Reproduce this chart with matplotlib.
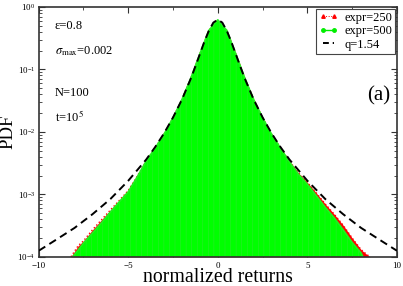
import matplotlib
matplotlib.use("Agg")
import matplotlib.pyplot as plt
import numpy as np

plt.rcParams['font.family'] = ['Liberation Serif', 'DejaVu Serif']
plt.rcParams['mathtext.fontset'] = 'stix'
plt.rcParams['hatch.linewidth'] = 0.4

# histogram envelopes
x500 = [-8.1, -7.5, -7.0, -6.5, -6.0, -5.5, -5.0, -4.5, -4.0, -3.5, -3.0, -2.5, -2.0,
        -1.5, -1.0, -0.5, 0.0, 0.5, 1.0, 1.5, 2.0, 2.5, 3.0, 3.5, 4.0, 4.5, 5.0, 5.5,
        6.0, 6.5, 7.0, 7.5, 8.0, 8.1]
p500 = [1.0e-4, 1.66e-4, 2.4e-4, 3.5e-4, 5.2e-4, 7.6e-4, 1.1e-3, 1.9e-3, 3.4e-3, 5.5e-3,
        9.2e-3, 1.68e-2, 3.3e-2, 7.3e-2, 0.178, 0.42, 0.62, 0.42, 0.178, 7.3e-2, 3.3e-2,
        1.68e-2, 9.2e-3, 5.5e-3, 3.3e-3, 2.1e-3, 1.45e-3, 9.5e-4, 6.2e-4, 4.2e-4,
        2.7e-4, 1.7e-4, 1.15e-4, 1.0e-4]

x250 = [-8.2, -7.8, -7.5, -7.0, -6.5, -6.0, -5.5, -5.0, -4.5, -4.0, -3.5, -3.0, -2.5, -2.0,
        -1.5, -1.0, -0.5, 0.0, 0.5, 1.0, 1.5, 2.0, 2.5, 3.0, 3.5, 4.0, 4.5, 5.0, 5.5,
        6.0, 6.5, 7.0, 7.5, 8.0, 8.3, 8.5]
p250 = [1.0e-4, 1.5e-4, 1.8e-4, 2.7e-4, 3.9e-4, 5.6e-4, 8.0e-4, 1.15e-3, 1.95e-3, 3.4e-3,
        5.5e-3, 9.2e-3, 1.68e-2, 3.3e-2, 7.3e-2, 0.178, 0.42, 0.62, 0.42, 0.178, 7.3e-2,
        3.3e-2, 1.68e-2, 9.2e-3, 5.5e-3, 3.4e-3, 2.2e-3, 1.55e-3, 1.05e-3, 7.0e-4,
        4.8e-4, 3.2e-4, 2.0e-4, 1.3e-4, 1.1e-4, 1.0e-4]

# q-Gaussian (q=1.54) curve
xq = [-10, -9, -8, -7, -6, -5, -4, -3.5, -3, -2.5, -2, -1.5, -1.25, -1, -0.75, -0.5,
      -0.25, 0, 0.25, 0.5, 0.75, 1, 1.25, 1.5, 2, 2.5, 3, 3.5, 4, 5, 6, 7, 8, 9, 10]
pq = [1.25e-4, 1.9e-4, 2.9e-4, 4.8e-4, 8.4e-4, 1.65e-3, 3.6e-3, 5.7e-3, 9.5e-3, 1.7e-2,
      3.3e-2, 7.2e-2, 0.112, 0.176, 0.278, 0.415, 0.56, 0.625, 0.56, 0.415, 0.278, 0.176,
      0.112, 7.2e-2, 3.3e-2, 1.7e-2, 9.5e-3, 5.7e-3, 3.6e-3, 1.65e-3, 8.4e-4, 4.8e-4,
      2.9e-4, 1.9e-4, 1.25e-4]

fig = plt.figure(figsize=(4.03, 2.86), dpi=100)
ax = fig.add_axes([0.096, 0.102, 0.889, 0.874])
ax.set_yscale('log')

ax.fill_between(x250, 1e-4, p250, color='#ff0000', lw=0, zorder=1)
ax.plot(x250, p250, color='#ff0000', lw=1.0, ls=':', zorder=1)
ax.fill_between(x500, 1e-4, p500, facecolor='#00ff00', edgecolor='#2ee82e', hatch='|||',
                lw=0, zorder=2)
ax.plot(x500, p500, color='#22ee22', lw=1.2, zorder=2)
ax.plot(xq, pq, color='black', ls=(0, (4, 2.5)), lw=1.4, zorder=3)

# legend handles
ax.plot([], [], color='red', ls=':', lw=0.7, marker='^', ms=2.5, label='expr=250')
ax.plot([], [], color='#00ee00', ls='-', lw=1.0, marker='o', ms=2.5, label='expr=500')
ax.plot([], [], color='black', ls=(0, (3, 2)), lw=1.4, label='q=1.54')
h, l = ax.get_legend_handles_labels()
leg = ax.legend(h[-3:], l[-3:], loc='upper right', fontsize=9, numpoints=2,
                handlelength=1.5, handletextpad=0.5, borderaxespad=0.15,
                borderpad=0.25, labelspacing=0.12, fancybox=False, framealpha=1)
leg.get_frame().set_edgecolor('#444444')
leg.get_frame().set_linewidth(0.8)

ax.set_xlim(-10, 10)
ax.set_ylim(1e-4, 1)
ax.set_xticks([-10, -5, 0, 5, 10])
ax.set_xticks([-7.5, -2.5, 2.5, 7.5], minor=True)
ax.tick_params(which='both', direction='in', top=True, right=True, labelsize=6.5,
               color='#333333')
ax.tick_params(which='major', length=4, width=0.8)
ax.tick_params(which='minor', length=2, width=0.6)
ax.tick_params(axis='y', pad=2.5)
for s in ax.spines.values():
    s.set_linewidth(1.2)
    s.set_color('#333333')

ax.set_xlabel('normalized returns', fontsize=14.3, labelpad=-1)
ax.set_ylabel('PDF', fontsize=13.5)
ax.yaxis.set_label_coords(-0.061, 0.5)

tx = -9.1
ax.text(tx, 0.44, r'ε=0.8', fontsize=9)
ax.text(tx, 0.175, r'$\sigma_{\rm max}$=0.002', fontsize=9)
ax.text(tx, 0.037, 'N=100', fontsize=9)
ax.text(tx, 0.0145, r't=10$^5$', fontsize=9)
ax.text(8.35, 0.032, '(a)', fontsize=15)

fig.savefig('out.png', dpi=100)
